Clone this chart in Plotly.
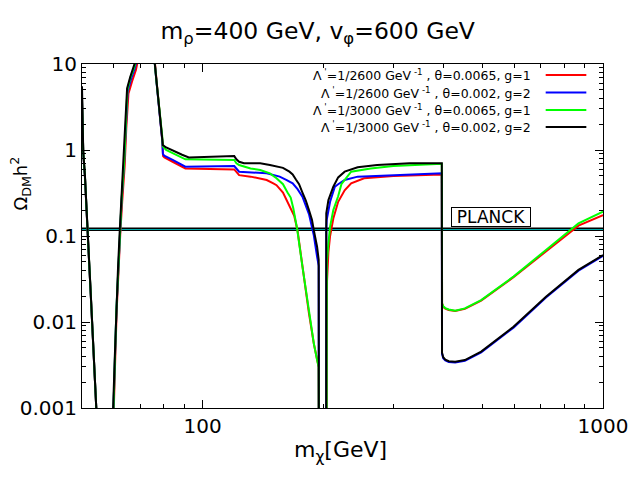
import numpy as np
import plotly.graph_objects as go

# relic density curves
black_x = [50.0, 50.15, 50.36, 50.85, 51.3, 51.6, 52.0, 52.5, 53.0, 53.6, 53.95, 54.4, 54.8,
           59.6, 59.8, 60.4, 60.9, 61.5, 62.1, 62.7, 63.6, 64.2, 64.8, 66.0, 67.3, 68.5, 72.0,
           75.5, 76.0, 76.7, 77.4, 78.1, 78.8, 79.3, 79.6, 81.1, 84.2, 88.9, 92.4, 101.4, 120.0,
           121.5, 123.4, 126.9, 139.3, 147.3, 158.8, 164.8, 167.9, 171.2, 174.2, 177.6, 181.0,
           184.4, 187.6, 189.6, 191.1, 193.2, 195.0, 195.2, 203.6, 203.7, 206.2, 210.2, 212.1,
           218.1, 226.4, 244.0, 272.9, 328.9, 395.8, 396.3, 399.0, 403.8, 412.0, 427.4, 451.9,
           496.3, 597.7, 720.4, 868.5, 1000.0]
black_y = [5.5, 2.7, 0.955, 0.51, 0.25, 0.123, 0.060, 0.0247, 0.0101, 0.00413, 0.00221, 0.001, 0.0004,
           0.0004, 0.001, 0.00413, 0.0144, 0.042, 0.112, 0.274, 0.73, 2.13, 5.2, 7.1, 9.3, 12.0, 30.0,
           12.0, 10.0, 6.5, 4.36, 2.92, 2.13, 1.49, 1.14, 1.07, 0.98, 0.88, 0.82, 0.835, 0.85,
           0.78, 0.73, 0.70, 0.70, 0.67, 0.62, 0.56, 0.52, 0.45, 0.40, 0.32, 0.26,
           0.20, 0.155, 0.117, 0.10, 0.075, 0.053, 0.0003, 0.0003, 0.184, 0.262, 0.343, 0.374,
           0.48, 0.56, 0.63, 0.67, 0.70, 0.70, 0.0044, 0.0039, 0.00365, 0.0035, 0.00345, 0.00361,
           0.00452, 0.0088, 0.0197, 0.0403, 0.060]

blue_x = [50.0, 50.15, 50.36, 50.85, 51.3, 51.6, 52.0, 52.5, 53.0, 53.6, 53.95, 54.4, 54.8,
          59.6, 59.85, 60.45, 60.95, 61.55, 62.15, 62.8, 63.7, 64.35, 65.0, 66.3, 67.7, 68.8, 72.0,
          75.5, 76.0, 76.7, 77.4, 78.1, 78.8, 79.3, 79.6, 80.2, 84.2, 90.6, 120.0, 121.5, 123.4,
          144.6, 155.8, 161.8, 167.9, 172.7, 177.6, 184.4, 189.6, 193.2, 195.0, 195.2, 203.6,
          203.75, 204.2, 208.2, 214.0, 218.1, 226.4, 244.0, 299.6, 395.8, 396.3, 399.0, 403.8,
          412.0, 427.4, 451.9, 496.3, 597.7, 720.4, 868.5, 1000.0]
blue_y = [4.0, 2.5, 0.92, 0.49, 0.24, 0.12, 0.058, 0.024, 0.0098, 0.004, 0.0021, 0.00095, 0.0004,
          0.0004, 0.001, 0.004, 0.014, 0.041, 0.108, 0.26, 0.70, 2.0, 4.8, 6.7, 8.9, 12.0, 30.0,
          12.0, 10.0, 6.3, 4.2, 2.8, 2.0, 1.3, 0.9, 0.86, 0.766, 0.64, 0.65, 0.60, 0.56,
          0.535, 0.49, 0.45, 0.41, 0.35, 0.286, 0.18, 0.102, 0.0575, 0.045, 0.0003, 0.0003,
          0.12, 0.154, 0.25, 0.374, 0.40, 0.448, 0.49, 0.51, 0.535, 0.0043, 0.0038, 0.00358,
          0.00343, 0.00338, 0.00354, 0.00443, 0.0086, 0.0193, 0.0395, 0.059]

red_x = [50.0, 50.15, 50.36, 50.85, 51.3, 51.6, 52.0, 52.5, 53.0, 53.6, 53.95, 54.4, 54.8,
         59.7, 59.95, 60.55, 61.05, 61.65, 62.3, 63.0, 63.9, 64.5, 65.3, 66.7, 68.2, 69.2, 72.5,
         75.6, 76.1, 76.8, 77.5, 78.2, 78.9, 79.4, 79.7, 80.3, 84.2, 90.6, 120.0, 121.5, 123.4,
         131.8, 144.6, 150.2, 153.0, 158.8, 164.8, 169.5, 172.7, 177.6, 184.4, 189.6, 193.2,
         195.0, 195.2, 204.1, 204.3, 204.6, 206.2, 208.2, 212.1, 218.1, 226.4, 235.0, 253.2,
         299.6, 395.8, 396.4, 399.0, 403.8, 411.8, 427.4, 451.9, 496.3, 597.7, 720.4, 868.5, 1000.0]
red_y = [4.0, 2.5, 0.92, 0.49, 0.24, 0.12, 0.058, 0.024, 0.0098, 0.004, 0.0021, 0.00095, 0.0004,
         0.0004, 0.001, 0.004, 0.014, 0.040, 0.105, 0.25, 0.65, 1.8, 4.5, 6.3, 8.6, 12.0, 30.0,
         12.0, 10.0, 6.2, 4.1, 2.7, 1.9, 1.25, 0.85, 0.82, 0.73, 0.61, 0.595, 0.55, 0.51,
         0.49, 0.448, 0.41, 0.39, 0.32, 0.22, 0.17, 0.115, 0.044, 0.0126, 0.0056, 0.0036,
         0.003, 0.0003, 0.0003, 0.0085, 0.03, 0.065, 0.10, 0.16, 0.25, 0.34, 0.41, 0.469,
         0.50, 0.52, 0.0165, 0.0150, 0.0143, 0.0138, 0.0134, 0.0142, 0.0177, 0.0332, 0.066, 0.132, 0.175]

green_x = [50.0, 50.15, 50.36, 50.85, 51.3, 51.6, 52.0, 52.5, 53.0, 53.6, 53.95, 54.4, 54.8,
           59.6, 59.85, 60.45, 60.95, 61.55, 62.15, 62.8, 63.7, 64.3, 64.9, 66.1, 67.5, 68.6, 72.0,
           75.5, 76.0, 76.7, 77.4, 78.1, 78.8, 79.3, 79.6, 81.1, 84.2, 90.6, 120.0, 121.5, 123.4,
           131.8, 139.3, 147.3, 153.0, 158.8, 163.0, 166.0, 168.5, 172.3, 177.6, 184.4, 189.6,
           193.2, 195.0, 195.2, 204.1, 204.2, 204.4, 206.2, 208.2, 212.1, 218.1, 222.2, 235.0,
           262.9, 299.6, 361.0, 395.8, 396.4, 399.0, 403.8, 411.8, 427.4, 451.9, 496.3, 597.7,
           720.4, 868.5, 1000.0]
green_y = [4.0, 2.6, 0.94, 0.50, 0.245, 0.122, 0.059, 0.0245, 0.01, 0.0041, 0.0022, 0.001, 0.0004,
           0.0004, 0.001, 0.0041, 0.0142, 0.041, 0.11, 0.27, 0.72, 2.1, 5.0, 7.0, 9.1, 12.0, 30.0,
           12.0, 10.0, 6.4, 4.3, 2.9, 2.1, 1.45, 1.10, 1.0, 0.92, 0.78, 0.766, 0.70, 0.67,
           0.61, 0.585, 0.535, 0.47, 0.40, 0.32, 0.28, 0.21, 0.12, 0.044, 0.0126, 0.00565,
           0.0036, 0.003, 0.0003, 0.0003, 0.0085, 0.05, 0.082, 0.128, 0.20, 0.29, 0.40, 0.56,
           0.61, 0.65, 0.68, 0.69, 0.0165, 0.0152, 0.0145, 0.0140, 0.0135, 0.0144, 0.018, 0.0337,
           0.0687, 0.14, 0.192]

labels = ["Λ<sup> '</sup>=1/2600 GeV<sup> -1</sup> , θ=0.0065, g=1",
          "Λ<sup> '</sup>=1/2600 GeV<sup> -1</sup> , θ=0.002, g=2",
          "Λ<sup> '</sup>=1/3000 GeV<sup> -1</sup> , θ=0.0065, g=1",
          "Λ<sup> '</sup>=1/3000 GeV<sup> -1</sup> , θ=0.002, g=2"]
colors = ["#ff0000", "#0000ff", "#00ff00", "#000000"]

planck_x = [50, 1000]
planck_lo = [0.116, 0.116]
planck_hi = [0.123, 0.123]
planck_label_pos = (525, 0.166)

y_ticks = [10, 1, 0.1, 0.01, 0.001]
y_ticktext = ["10", "1", "0.1", "0.01", "0.001"]
x_ticks = [100, 1000]
x_ticktext = ["100", "1000"]

FONT = "DejaVu Sans"

fig = go.Figure()

# planck band
fig.add_trace(go.Scatter(x=planck_x, y=planck_lo, mode="lines",
                         line=dict(color="black", width=1.3), showlegend=False))
fig.add_trace(go.Scatter(x=planck_x, y=planck_hi, mode="lines", fill="tonexty",
                         fillcolor="#00e5e5", line=dict(color="black", width=1.3),
                         showlegend=False))

series = [(red_x, red_y), (blue_x, blue_y), (green_x, green_y), (black_x, black_y)]
for (xs, ys), lab, col in zip(series, labels, colors):
    fig.add_trace(go.Scatter(x=xs, y=ys, mode="lines", name=lab,
                             line=dict(color=col, width=2), showlegend=False))

# gnuplot-style key: text right aligned, sample line on the right
key_y = [0.968, 0.917, 0.866, 0.817]
for lab, col, ky in zip(labels, colors, key_y):
    fig.add_annotation(xref="paper", yref="paper", x=0.866, y=ky, text=lab,
                       showarrow=False, xanchor="right", yanchor="middle",
                       font=dict(family=FONT, size=12.5, color="black"))
    fig.add_shape(type="line", xref="paper", yref="paper", x0=0.890, x1=0.968,
                  y0=ky, y1=ky, line=dict(color=col, width=2))

fig.add_annotation(x=np.log10(planck_label_pos[0]), y=np.log10(planck_label_pos[1]),
                   text="PLANCK", showarrow=False, bordercolor="black", borderwidth=1,
                   borderpad=0, bgcolor="white", width=78, height=18,
                   xanchor="center", yanchor="middle",
                   font=dict(family=FONT, size=17, color="black"))

fig.add_annotation(xref="paper", yref="paper", x=-0.118, y=0.651, textangle=-90,
                   xanchor="center", yanchor="middle",
                   text="Ω<sub>DM</sub>h<sup>2</sup>", showarrow=False,
                   font=dict(family=FONT, size=18, color="black"))
fig.add_annotation(xref="paper", yref="paper", x=0.497, y=-0.125,
                   xanchor="center", yanchor="middle",
                   text="m<sub>χ</sub>[GeV]", showarrow=False,
                   font=dict(family=FONT, size=22, color="black"))

x_minor = [v * 10 ** d for d in (1, 2) for v in range(2, 10) if 50 <= v * 10 ** d < 1000]
y_minor = [v * 10.0 ** d for d in range(-3, 1) for v in range(2, 10)]

# page body adds an 8px margin, so the figure is 632x472
fig.update_layout(
    width=632, height=472,
    paper_bgcolor="white", plot_bgcolor="white",
    margin=dict(l=69, r=28, t=56, b=72),
    title=dict(text="m<sub>ρ</sub>=400 GeV, v<sub>φ</sub>=600 GeV", x=0.49, xanchor="center",
               y=0.952, yanchor="middle", font=dict(family=FONT, size=23.5, color="black")),
    font=dict(family=FONT, size=20, color="black"),
    xaxis=dict(type="log", range=[np.log10(50), 3], tickvals=x_ticks, ticktext=x_ticktext,
               ticks="inside", ticklen=8, tickcolor="black", mirror="allticks",
               showline=True, linecolor="black", linewidth=1, showgrid=False, zeroline=False,
               minor=dict(tickvals=x_minor, ticks="inside", ticklen=4, tickcolor="black",
                          showgrid=False)),
    yaxis=dict(type="log", range=[-3, 1], tickvals=y_ticks, ticktext=y_ticktext,
               ticks="inside", ticklen=8, tickcolor="black", mirror="allticks",
               showline=True, linecolor="black", linewidth=1, showgrid=False, zeroline=False,
               minor=dict(tickvals=y_minor, ticks="inside", ticklen=4, tickcolor="black",
                          showgrid=False)),
)

fig.write_html("out.html")
